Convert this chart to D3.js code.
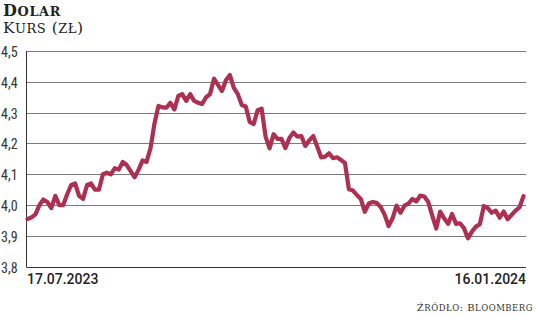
<!DOCTYPE html>
<html>
<head>
<meta charset="utf-8">
<script src="https://cdn.jsdelivr.net/npm/d3@7"></script>
<style>
  html, body { margin: 0; padding: 0; background: #fff; }
  svg { display: block; }
</style>
</head>
<body>
<svg id="chart" width="536" height="317"></svg>
<script>
// ── Data: USD/PLN daily rate, 17.07.2023 – 16.01.2024 ──
const kurs = [
  3.955, 3.96, 3.97, 4.0, 4.018, 4.01, 3.99, 4.03, 4.0, 4.0,
  4.035, 4.065, 4.07, 4.03, 4.02, 4.065, 4.07, 4.05, 4.05, 4.1,
  4.105, 4.1, 4.12, 4.115, 4.14, 4.13, 4.11, 4.09, 4.115, 4.145,
  4.14, 4.185, 4.265, 4.322, 4.317, 4.316, 4.332, 4.31, 4.354, 4.36,
  4.338, 4.36, 4.338, 4.332, 4.328, 4.35, 4.36, 4.41, 4.39, 4.37,
  4.405, 4.422, 4.38, 4.36, 4.325, 4.32, 4.27, 4.263, 4.308, 4.313,
  4.222, 4.184, 4.23, 4.215, 4.215, 4.185, 4.218, 4.236, 4.222, 4.224,
  4.192, 4.21, 4.224, 4.19, 4.155, 4.157, 4.168, 4.152, 4.155, 4.146,
  4.137, 4.051, 4.047, 4.033, 4.02, 3.978, 4.005, 4.01, 4.007, 3.994,
  3.969, 3.932, 3.957, 3.998, 3.975, 3.998, 4.005, 4.02, 4.012, 4.031,
  4.028, 4.01, 3.966, 3.924, 3.979, 3.957, 3.939, 3.971, 3.939, 3.941,
  3.925, 3.892, 3.914, 3.93, 3.938, 3.997, 3.99, 3.975, 3.982, 3.959,
  3.979, 3.954, 3.968, 3.982, 3.993, 4.029
];
const yTicks   = [3.8, 3.9, 4.0, 4.1, 4.2, 4.3, 4.4, 4.5];
const xLabels  = ['17.07.2023', '16.01.2024'];
const title    = 'Dolar';
const subtitle = 'Kurs (zł)';
const source   = 'Źródło: Bloomberg';

// ── Layout ─────────────────────────────────────────
const plot = { left: 26.5, right: 526, top: 51, bottom: 266.7 };
const lineColor = '#ad3052';
const gridColor = '#7a7a7a';
const serif = '"DejaVu Serif", serif';
const narrow = '"Liberation Sans Narrow", "Roboto Condensed", Roboto, sans-serif';

const svg = d3.select('#chart');

const x = d3.scaleLinear()
  .domain([0, kurs.length - 1])
  .range([plot.left + 1, 523.5]);

const y = d3.scaleLinear()
  .domain([3.8, 4.5])
  .range([plot.bottom, plot.top]);

// fake small caps: capitals stay big, lowercase become smaller capitals
function smallCaps(sel, str, big, small) {
  const parts = str.match(/([^a-ząćęłńóśźż]+|[a-ząćęłńóśźż]+)/g);
  parts.forEach(p => {
    const lower = p !== p.toUpperCase();
    sel.append('tspan')
      .attr('font-size', lower ? small : big)
      .text(p.toUpperCase());
  });
}

// ── Titles ─────────────────────────────────────────
const t1 = svg.append('text')
  .attr('x', 3).attr('y', 15.5)
  .attr('font-family', serif)
  .attr('font-weight', 'bold')
  .attr('letter-spacing', 0.7)
  .attr('fill', '#222');
smallCaps(t1, title, 16, 12.8);

const t2 = svg.append('text')
  .attr('x', 3).attr('y', 33)
  .attr('font-family', serif)
  .attr('letter-spacing', 0.5)
  .attr('fill', '#222');
smallCaps(t2, subtitle, 15.5, 13);

// ── Gridlines + y labels ───────────────────────────
const grid = svg.append('g');
grid.selectAll('line')
  .data(yTicks)
  .join('line')
  .attr('x1', plot.left).attr('x2', plot.right)
  .attr('y1', d => Math.round(y(d)) + 0.5)
  .attr('y2', d => Math.round(y(d)) + 0.5)
  .attr('stroke', d => d === 3.8 ? '#333' : gridColor)
  .attr('stroke-width', 1);

grid.selectAll('text')
  .data(yTicks)
  .join('text')
  .attr('x', 1)
  .attr('y', d => y(d) + 6)
  .attr('font-family', narrow)
  .attr('font-size', 14)
  .attr('fill', '#333')
  .text(d => d3.format('.1f')(d).replace('.', ','));

// left axis
svg.append('line')
  .attr('x1', plot.left).attr('x2', plot.left)
  .attr('y1', y(4.5)).attr('y2', y(3.8) + 0.5)
  .attr('stroke', '#333')
  .attr('stroke-width', 1);

// ── Line ───────────────────────────────────────────
const line = d3.line()
  .x((d, i) => x(i))
  .y(d => y(d));

svg.append('path')
  .datum(kurs)
  .attr('d', line)
  .attr('fill', 'none')
  .attr('stroke', lineColor)
  .attr('stroke-width', 4.2)
  .attr('stroke-linejoin', 'round')
  .attr('stroke-linecap', 'round');

// ── X labels ───────────────────────────────────────
svg.append('text')
  .attr('x', 27).attr('y', 284)
  .attr('font-family', 'Roboto, sans-serif')
  .attr('font-weight', 500)
  .attr('font-size', 14)
  .attr('fill', '#222')
  .text(xLabels[0]);

svg.append('text')
  .attr('x', 526).attr('y', 284)
  .attr('text-anchor', 'end')
  .attr('font-family', 'Roboto, sans-serif')
  .attr('font-weight', 500)
  .attr('font-size', 14)
  .attr('fill', '#222')
  .text(xLabels[1]);

// ── Source ─────────────────────────────────────────
const src = svg.append('text')
  .attr('x', 533).attr('y', 311)
  .attr('text-anchor', 'end')
  .attr('font-family', serif)
  .attr('letter-spacing', 0.5)
  .attr('fill', '#333');
smallCaps(src, source, 10, 8.5);
</script>
</body>
</html>
